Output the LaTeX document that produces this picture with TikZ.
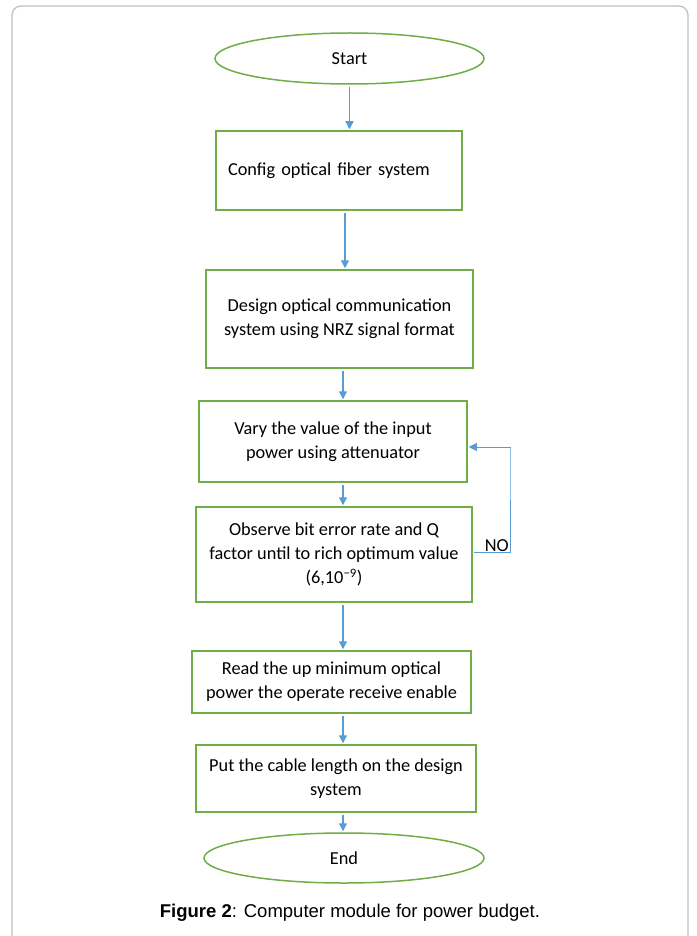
\documentclass[tikz,border=0pt]{standalone}
\usepackage{fontspec}
\setmainfont{Carlito}
\newfontfamily\capfont{Liberation Sans}
\usetikzlibrary{arrows.meta,shapes.geometric}
\definecolor{FlowGreen}{HTML}{70AD47}
\definecolor{FlowBlue}{HTML}{5B9BD5}
\definecolor{FrameGray}{HTML}{BFBFBF}

\begin{document}
\begin{tikzpicture}[
      x=1pt,y=-1pt,
      every node/.style={font=\fontsize{18.3}{24}\selectfont},
      terminal/.style={ellipse,draw=FlowGreen,line width=1.5pt,inner sep=0pt},
      process/.style={rectangle,draw=FlowGreen,line width=1.5pt,align=center,inner sep=0pt},
      arrow/.style={-{Triangle[length=8pt,width=8pt]},line width=1.3pt,color=FlowBlue,shorten <=2pt,shorten >=1pt}
    ]
      \useasboundingbox (0,0) rectangle (696,936);
      \draw[FrameGray,line width=1.3pt,rounded corners=9pt] (12,937) -- (12,6) -- (688,6) -- (688,937);
      \node[terminal,minimum width=269pt,minimum height=51pt] (start) at (349.5,58.5) {Start};
      \node[process,minimum width=246pt,minimum height=79pt,text width=222pt,align=left,inner xsep=12pt] (config) at (339,170.5) {Config optical fiber system};
      \node[process,minimum width=267pt,minimum height=98pt] (design) at (339.5,319) {Design optical communication\\system using NRZ signal format};
      \node[process,minimum width=268pt,minimum height=81pt] (vary) at (333,441.5) {Vary the value of the input\\power using attenuator};
      \node[process,minimum width=276pt,minimum height=95pt] (observe) at (334,554.5) {Observe bit error rate and Q\\factor until to rich optimum value\\(6,10\textsuperscript{\char"2212 9})};
      \node[process,minimum width=279pt,minimum height=62pt] (read) at (331.5,682) {Read the up minimum optical\\power the operate receive enable};
      \node[process,minimum width=280pt,minimum height=67pt] (put) at (336,778.5) {Put the cable length on the design\\system};
      \node[terminal,minimum width=280pt,minimum height=50pt] (end) at (344,858) {End};
      \node[font=\capfont\fontsize{18.5}{22}\selectfont] (caption) at (350,913) {\textbf{Figure 2}: Computer module for power budget.};
      \coordinate (spine) at (343,0);
      \coordinate (loopa) at (510,447);
      \coordinate (loopb) at (510,552);
      \draw[arrow] (start.south) -- (start.south |- config.north);
      \draw[arrow] ([xshift=6pt]config.south) -- ([xshift=6pt]config.south |- design.north);
      \draw[arrow] (design.south -| spine) -- (vary.north -| spine);
      \draw[arrow] (vary.south -| spine) -- (observe.north -| spine);
      \draw[arrow] (observe.south -| spine) -- (read.north -| spine);
      \draw[arrow] (read.south -| spine) -- (put.north -| spine);
      \draw[arrow] (put.south -| spine) -- (end.north -| spine);
      % NO branch back to the attenuator step
      \draw[arrow,line width=0.9pt,shorten <=1pt] (observe.east |- loopb) -- (loopb) -- ([yshift=-2pt]loopa) -- (loopa) -- (vary.east |- loopa);
      \node[anchor=base east,inner sep=0pt] (no) at (509,551) {NO};
    \end{tikzpicture}
\end{document}
